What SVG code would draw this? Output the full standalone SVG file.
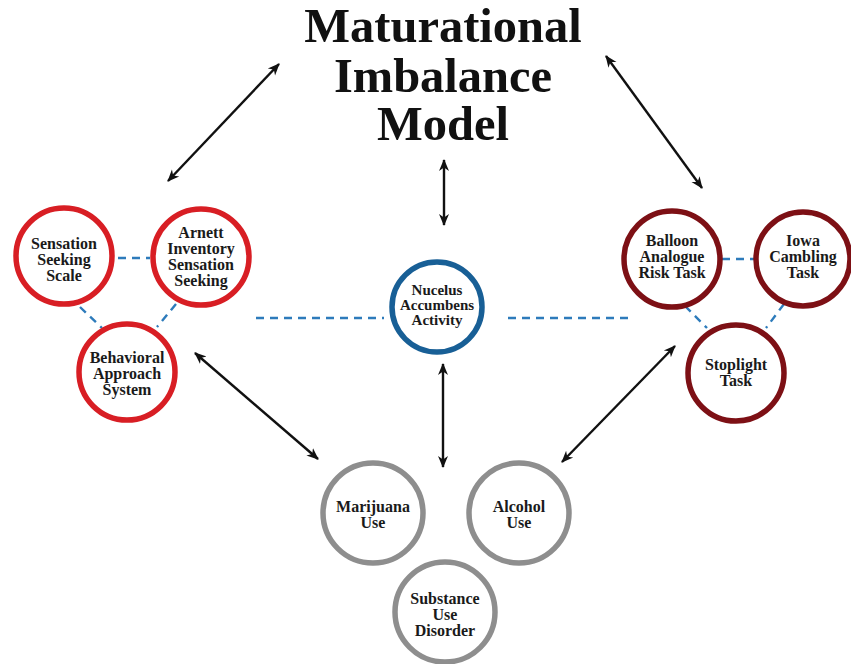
<svg xmlns="http://www.w3.org/2000/svg" width="851" height="664" viewBox="0 0 851 664">
<style>
.title{font-family:"Liberation Serif","Times New Roman",serif;font-weight:bold;font-size:48.5px;fill:#111;text-anchor:middle}
.lbl{font-family:"Liberation Serif","Times New Roman",serif;font-weight:bold;font-size:16px;fill:#1a1a1a;text-anchor:middle}
.c{fill:#fff;stroke-width:5.5}
.red{stroke:#d81e24}
.dred{stroke:#7d1015}
.blue{stroke:#185f96}
.gray{stroke:#8e8e8e}
.arr{stroke:#111;stroke-width:2.4;fill:none;marker-start:url(#ah);marker-end:url(#ah)}
.dash{stroke:#2d7bbb;stroke-width:2.4;stroke-dasharray:8 6;fill:none}
</style>
<defs>
<marker id="ah" viewBox="0 0 12 12" refX="11" refY="6" markerWidth="12" markerHeight="12" markerUnits="userSpaceOnUse" orient="auto-start-reverse">
<path d="M0,1 L12,6 L0,11 L3.5,6 Z" fill="#111"/>
</marker>
</defs>
<rect width="851" height="664" fill="#fff"/>
<g id="title">
<text class="title" x="443" y="42">Maturational</text>
<text class="title" x="443" y="92">Imbalance</text>
<text class="title" x="443" y="140">Model</text>
</g>
<g id="connectors">
<line class="arr" x1="279" y1="64" x2="168" y2="181"/>
<line class="arr" x1="606" y1="56" x2="702" y2="188"/>
<line class="arr" x1="444" y1="160" x2="444" y2="225"/>
<line class="arr" x1="443" y1="364" x2="443" y2="467"/>
<line class="arr" x1="195" y1="353" x2="318" y2="459"/>
<line class="arr" x1="675" y1="346" x2="562" y2="462"/>
<line class="dash" x1="118" y1="258" x2="150" y2="258"/>
<line class="dash" x1="80" y1="307" x2="102" y2="328"/>
<line class="dash" x1="176" y1="304" x2="157" y2="327"/>
<line class="dash" x1="256" y1="318" x2="384" y2="318"/>
<line class="dash" x1="508" y1="318" x2="634" y2="318"/>
<line class="dash" x1="722" y1="259" x2="755" y2="259"/>
<line class="dash" x1="685" y1="306" x2="707" y2="328"/>
<line class="dash" x1="784" y1="304" x2="766" y2="328"/>
</g>
<g id="sensation-seeking-scale">
<circle class="c red" cx="64" cy="256" r="48"/>
<text class="lbl" x="64" y="249">Sensation</text>
<text class="lbl" x="64" y="265">Seeking</text>
<text class="lbl" x="64" y="281">Scale</text>
</g>
<g id="arnett">
<circle class="c red" cx="201" cy="257" r="48"/>
<text class="lbl" x="201" y="238">Arnett</text>
<text class="lbl" x="201" y="254">Inventory</text>
<text class="lbl" x="201" y="270">Sensation</text>
<text class="lbl" x="201" y="286">Seeking</text>
</g>
<g id="behavioral-approach">
<circle class="c red" cx="127" cy="372" r="48"/>
<text class="lbl" x="127" y="363">Behavioral</text>
<text class="lbl" x="127" y="379">Approach</text>
<text class="lbl" x="127" y="395">System</text>
</g>
<g id="nucleus-accumbens">
<circle class="c blue" cx="437" cy="307" r="45"/>
<text class="lbl" x="437" y="295" style="font-size:15px">Nucelus</text>
<text class="lbl" x="437" y="310" style="font-size:15px">Accumbens</text>
<text class="lbl" x="437" y="325" style="font-size:15px">Activity</text>
</g>
<g id="balloon">
<circle class="c dred" cx="672" cy="259" r="48"/>
<text class="lbl" x="672" y="246">Balloon</text>
<text class="lbl" x="672" y="262">Analogue</text>
<text class="lbl" x="672" y="278">Risk Task</text>
</g>
<g id="iowa">
<circle class="c dred" cx="803" cy="259" r="47"/>
<text class="lbl" x="803" y="246">Iowa</text>
<text class="lbl" x="803" y="262">Cambling</text>
<text class="lbl" x="803" y="278">Task</text>
</g>
<g id="stoplight">
<circle class="c dred" cx="736" cy="373" r="48"/>
<text class="lbl" x="736" y="370">Stoplight</text>
<text class="lbl" x="736" y="386">Task</text>
</g>
<g id="marijuana">
<circle class="c gray" cx="373" cy="513" r="50"/>
<text class="lbl" x="373" y="512">Marijuana</text>
<text class="lbl" x="373" y="528">Use</text>
</g>
<g id="alcohol">
<circle class="c gray" cx="519" cy="513" r="50"/>
<text class="lbl" x="519" y="512">Alcohol</text>
<text class="lbl" x="519" y="528">Use</text>
</g>
<g id="substance-use-disorder">
<circle class="c gray" cx="445" cy="612" r="50"/>
<text class="lbl" x="445" y="604">Substance</text>
<text class="lbl" x="445" y="620">Use</text>
<text class="lbl" x="445" y="636">Disorder</text>
</g>
</svg>
